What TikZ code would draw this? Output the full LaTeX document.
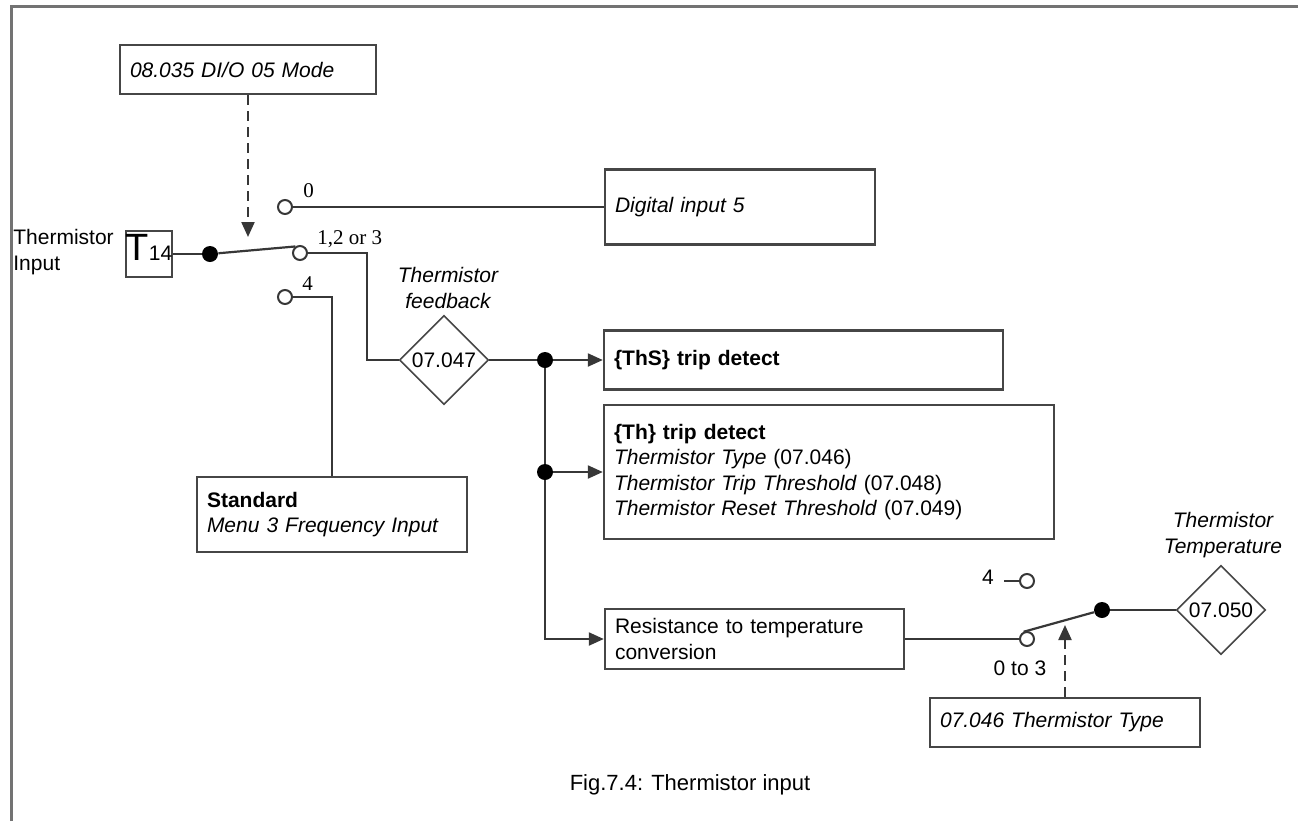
\documentclass[tikz,border=0pt]{standalone}
\usepackage{fontspec}
\setmainfont{Liberation Sans}
\newfontfamily\timesfont{Liberation Serif}
\usetikzlibrary{arrows.meta, positioning, shapes.geometric, calc}
\definecolor{drline}{RGB}{55,55,55}
\definecolor{drbox}{RGB}{70,70,70}
\definecolor{drframe}{RGB}{115,115,115}
\newcommand{\figfont}{\fontsize{10.5}{12.75}\selectfont}

\begin{document}
\begin{tikzpicture}[x=0.5pt, y=-0.5pt, font=\figfont,
  pbox/.style={draw=drbox, line width=1.2pt, inner xsep=5pt, inner ysep=0pt, align=left},
  itbox/.style={pbox, font=\figfont\itshape},
  pdiam/.style={diamond, draw=drbox, line width=0.8pt, minimum width=44.5pt, minimum height=44.5pt, inner sep=0pt},
  opent/.style={circle, draw=drline, line width=1pt, fill=white, minimum size=7pt, inner sep=0pt},
  pivot/.style={circle, fill=black, minimum size=8pt, inner sep=0pt},
  wire/.style={draw=drline, line width=1.1pt},
  sig/.style={wire, -{Triangle[length=7.5pt, width=6.5pt]}},
  ctrl/.style={sig, dash pattern=on 5pt off 3pt},
  tnum/.style={font=\timesfont\fontsize{10.5}{12}\selectfont, inner sep=0pt},
  flabel/.style={font=\figfont\itshape, align=center, inner sep=0pt}
]
\useasboundingbox (0,0) rectangle (1298,821);
% frame
\draw[drframe, line width=1.5pt] (11,821) -- (11,6) -- (1298,6);

% mode select and thermistor input switch
\node[itbox, text width=118pt, minimum height=24.5pt] (mode) at (248,69.5) {08.035 DI/O 05 Mode};
\node[align=left, inner sep=0pt, anchor=west] (tin) at (13,252) {Thermistor\\Input};
\node[draw=drbox, line width=1.2pt, minimum size=23pt, inner sep=0pt, text depth=7pt] (t14) at (149,254)
  {{\fontsize{19}{19}\selectfont T}14};
\node[pivot] (pv1) at (210,254) {};
\node[opent] (c0) at (285,207) {};
\node[opent] (c123) at (300,253) {};
\node[opent] (c4) at (285,297) {};
\node[tnum, anchor=base west] (l0) at (303,197) {0};
\node[tnum, anchor=base west] (l123) at (317,244) {1,2 or 3};
\node[tnum, anchor=base west] (l4) at (302,290) {4};
\coordinate (tip1) at (248,237);

% outputs of the first switch
\node[itbox, text width=125pt, minimum height=37.5pt] (dig) at (740,207) {Digital input 5};
\node[pbox, text width=125pt, minimum height=37.5pt] (std) at (332,514.5)
  {\textbf{Standard}\\\textit{Menu 3 Frequency Input}};
\node[pdiam] (fb) at (444,360) {07.047};
\node[flabel] (fblab) at (448,288) {Thermistor\\feedback};

% trip detection
\node[pivot] (j1) at (545,360) {};
\node[pivot] (j2) at (545,472) {};
\node[pbox, text width=189.5pt, minimum height=29.5pt] (ths) at (803.5,360) {\textbf{\{ThS\} trip detect}};
\node[pbox, text width=215pt, minimum height=67pt] (th) at (829,472)
  {\textbf{\{Th\} trip detect}\\
   \textit{Thermistor Type} (07.046)\\
   \textit{Thermistor Trip Threshold} (07.048)\\
   \textit{Thermistor Reset Threshold} (07.049)};
\node[pbox, text width=139.5pt, minimum height=30pt] (res) at (754.5,639)
  {Resistance to temperature\\conversion};

% temperature switch
\node[opent] (c03) at (1027,639) {};
\node[opent] (c4b) at (1027,581) {};
\node[inner sep=0pt] (l4b) at (988,577) {4};
\node[inner sep=0pt] (l03) at (1020,668) {0 to 3};
\node[pivot] (pv2) at (1102,610) {};
\node[pdiam] (temp) at (1221,610) {07.050};
\node[flabel] (templab) at (1223,535) {Thermistor\\Temperature};
\node[itbox, text width=125pt, minimum height=24.5pt] (ttype) at (1065,722.5) {07.046 Thermistor Type};
\coordinate (tip2) at (1065,625);

\node[font=\fontsize{11}{13}\selectfont, inner sep=0pt] (cap) at (690,785) {Fig.7.4: Thermistor input};

% connections
\draw[ctrl] (mode.south) -- (tip1);
\draw[wire] (t14.east) -- (pv1);
\draw[wire] (pv1) -- (c123.125);
\draw[wire] (c0.east) -- (c0.east -| dig.west);
\draw[wire] (c123.east) -- ++(59,0) |- (fb.west);
\draw[wire] (c4.east) -| (std.north);
\draw[wire] (fb.east) -- (j1);
\draw[sig] (j1) -- (ths.west);
\draw[wire] (j1) -- (j2);
\draw[sig] (j2) -- (th.west);
\draw[sig] (j2) |- (res.west);
\draw[wire] (res.east) -- (c03.west);
\draw[wire] (c03.115) -- (pv2);
\draw[wire] (pv2) -- (temp.west);
\draw[wire] (c4b.west) -- ++(-15,0);
\draw[ctrl] (ttype.north) -- (tip2);
\end{tikzpicture}
\end{document}
